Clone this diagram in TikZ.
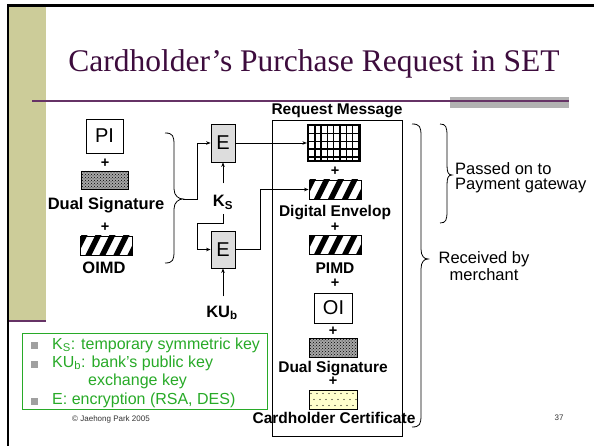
\documentclass[tikz,border=0pt]{standalone}
\usepackage{fontspec}
\setmainfont{Liberation Sans}
\newfontfamily\titlefont{Liberation Serif}
\usetikzlibrary{arrows.meta,patterns}

\definecolor{khaki}{RGB}{204,204,153}
\definecolor{plum}{RGB}{102,51,102}
\definecolor{titleplum}{RGB}{61,12,61}
\definecolor{legendgreen}{RGB}{40,170,40}
\definecolor{barGray}{RGB}{178,178,178}
\definecolor{boxGray}{RGB}{221,221,221}
\definecolor{bulletGray}{RGB}{160,160,160}
\definecolor{certYellow}{RGB}{255,255,204}

% a curly brace opening to the right: x0, ytop, ybot, xmid, xtip, ytip
\newcommand\curlybrace[6]{%
  \draw[bracestyle] (#1,#2) .. controls ({#4-1},#2) and (#4,{#2+3}) .. (#4,{#2+12})
    -- (#4,{#6-10}) .. controls (#4,{#6-3}) and ({#5-4},#6) .. (#5,#6)
    .. controls ({#5-4},#6) and (#4,{#6+3}) .. (#4,{#6+10})
    -- (#4,{#3-12}) .. controls (#4,{#3-3}) and ({#4-1},#3) .. (#1,#3);}

\tikzset{
  bracestyle/.style={line width=0.8pt},
  conn/.style={line width=0.8pt, -{Stealth[length=4.5pt,width=3.5pt]}},
  lbl/.style={font=\fontsize{15.5}{17}\selectfont\bfseries, inner sep=0pt},
  lblL/.style={font=\fontsize{16.5}{18}\selectfont\bfseries, inner sep=0pt},
  plussign/.style={font=\fontsize{14.5}{16}\selectfont\bfseries, inner sep=0pt},
  ebox/.style={draw, fill=boxGray, line width=0.8pt, minimum width=24pt,
    minimum height=38pt, inner sep=0pt, font=\fontsize{20}{22}\selectfont},
  txtbox/.style={draw, fill=white, line width=0.8pt, inner sep=0pt,
    font=\fontsize{20}{22}\selectfont},
  hatchblk/.style={draw, line width=0.8pt, minimum width=52pt, minimum height=19pt,
    inner sep=0pt, path picture={
      \foreach \k in {-3,...,4}
        \draw[black, line width=5.5pt] ([xshift={\k*14pt-10pt}, yshift=-12pt]path picture bounding box.south)
          -- ++(21pt,42pt);}},
  gridblk/.style={draw, line width=1.2pt, minimum width=53pt, minimum height=36pt,
    inner sep=0pt, path picture={
      \foreach \k in {0,...,8}
        \draw[black, line width=1.5pt] ([xshift={\k*6.3pt+1pt}]path picture bounding box.south west) -- ++(0pt,40pt);
      \foreach \k in {0,...,4}
        \draw[black, line width=1.5pt] ([yshift={-\k*7.9pt-0.5pt}]path picture bounding box.north west) -- ++(60pt,0pt);}},
  dsigblk/.style={draw, line width=0.8pt, minimum width=47pt, minimum height=18pt,
    inner sep=0pt, preaction={fill=gray!70}, pattern=crosshatch dots},
  certblk/.style={draw, fill=certYellow, line width=0.8pt, minimum width=48pt,
    minimum height=19pt, inner sep=0pt, path picture={
      \foreach \i in {0,...,8}
        \foreach \j in {0,1,2}
          \fill[black] ([xshift={\i*6pt+2pt+mod(\j,2)*3pt}, yshift={\j*6pt+3.5pt}]path picture bounding box.south west) circle (0.7pt);}},
  legtxt/.style={font=\fontsize{16}{18}\selectfont, text=legendgreen, inner sep=0pt, anchor=base west},
  sidetxt/.style={font=\fontsize{16.5}{15}\selectfont, inner sep=0pt},
  smalltxt/.style={font=\fontsize{8}{9}\selectfont, text=black!80, inner sep=0pt, anchor=base}
}

\begin{document}
\begin{tikzpicture}[x=1pt,y=-1pt]
\useasboundingbox (0,0) rectangle (594,446);
\fill[white] (0,0) rectangle (594,446);

% slide frame and side bar
\fill[khaki] (9,7) rectangle (46,320);
\draw[plum, line width=2pt] (8,321) -- (46,321);
\draw[black, line width=2.5pt] (8,446) -- (8,5.5) -- (594,5.5);

% title and rule
\node[font=\titlefont\fontsize{31.5}{34}\selectfont, text=titleplum, inner sep=0pt, anchor=base]
  (title) at (314,72) {Cardholder’s Purchase Request in SET};
\fill[barGray] (450,97) rectangle (569,108);
\draw[plum, line width=1.2pt] (32,101) -- (569,101);

% dual-signed items on the left
\node[txtbox, minimum width=37pt, minimum height=34pt] (pi) at (104.5,136) {PI};
\node[plussign] (plusA) at (105,163) {+};
\node[dsigblk] (dsigL) at (104.5,180) {};
\node[lblL, anchor=base] (dsigLtxt) at (106,210) {Dual Signature};
\node[plussign] (plusB) at (105,227) {+};
\node[hatchblk] (oimd) at (106.5,245.5) {};
\node[lblL, anchor=base] (oimdtxt) at (104,273) {OIMD};

\curlybrace{165}{133}{263}{174}{183}{199}
\coordinate (btip) at (183,199);

% encryption steps
\node[ebox] (e1) at (223,143) {E};
\node[ebox, minimum height=37pt] (e2) at (223,249.5) {E};
\node[lblL, anchor=base] (ks) at (223,207) {K\textsubscript{S}};
\node[lblL, anchor=base] (kub) at (222,317) {KU\textsubscript{b}};

\draw[conn] (btip) -- (197,199) |- (e1.west);
\draw[conn] ([yshift=12pt]ks.north) -- (e1.south);
\draw[conn] ([yshift=-4pt]ks.south) |- (197,223) |- (e2.west);
\draw[conn] ([yshift=9pt]e2.south |- kub.north) -- (e2.south);

% request message
\node[lbl, anchor=base] (reqtxt) at (337,115) {Request Message};
\node[draw, line width=1pt, minimum width=130pt, minimum height=315pt, inner sep=0pt]
  (msg) at (337,278.5) {};

\node[gridblk] (ppi) at (334,143) {};
\node[plussign] (plusC) at (335,171) {+};
\node[hatchblk] (env) at (335,189.5) {};
\node[lbl, anchor=base] (envtxt) at (335,217) {Digital Envelop};
\node[plussign] (plusD) at (335,227) {+};
\node[hatchblk] (pimd) at (335,245) {};
\node[lbl, anchor=base] (pimdtxt) at (335,273) {PIMD};
\node[plussign] (plusE) at (335,283) {+};
\node[txtbox, minimum width=38pt, minimum height=30pt] (oi) at (333.5,308) {OI};
\node[plussign] (plusF) at (333,331) {+};
\node[dsigblk, minimum width=48pt, minimum height=19pt] (dsigR) at (333,347.5) {};
\node[lbl, anchor=base] (dsigRtxt) at (333,372) {Dual Signature};
\node[plussign] (plusG) at (333,381) {+};
\node[certblk] (cert) at (333,399.5) {};
\node[lbl, anchor=base] (certtxt) at (334,423) {Cardholder Certificate};

\draw[conn] (e1.east) -- (e1.east -| ppi.west);
\draw[conn] (e2.east) -- ++(25,0) |- (env.west);

% who receives what
\curlybrace{440}{124}{223}{447}{452}{175}
\curlybrace{412}{124}{427}{421}{428}{259}
\node[sidetxt, align=left, anchor=north west] (pass) at (455,162.5) {Passed on to\\Payment gateway};
\node[sidetxt, align=center, anchor=north] (recv) at (484,251.5) {Received by\\merchant};

% legend
\node[draw=legendgreen, line width=1pt, minimum width=245pt, minimum height=76pt, inner sep=0pt]
  (legend) at (144.5,371) {};
\fill[bulletGray] (31,342) rectangle (38,349);
\fill[bulletGray] (31,360.5) rectangle (38,367.5);
\fill[bulletGray] (31,397.5) rectangle (38,404.5);
\node[legtxt] (leg1) at (52,349) {K\textsubscript{S}: temporary symmetric key};
\node[legtxt] (leg2) at (52,367) {KU\textsubscript{b}: bank’s public key};
\node[legtxt] (leg3) at (88,385) {exchange key};
\node[legtxt] (leg4) at (52,404) {E: encryption (RSA, DES)};

% footer
\node[smalltxt] (copy) at (111,421) {© Jaehong Park 2005};
\node[smalltxt] (pageno) at (559,420) {37};
\end{tikzpicture}
\end{document}
